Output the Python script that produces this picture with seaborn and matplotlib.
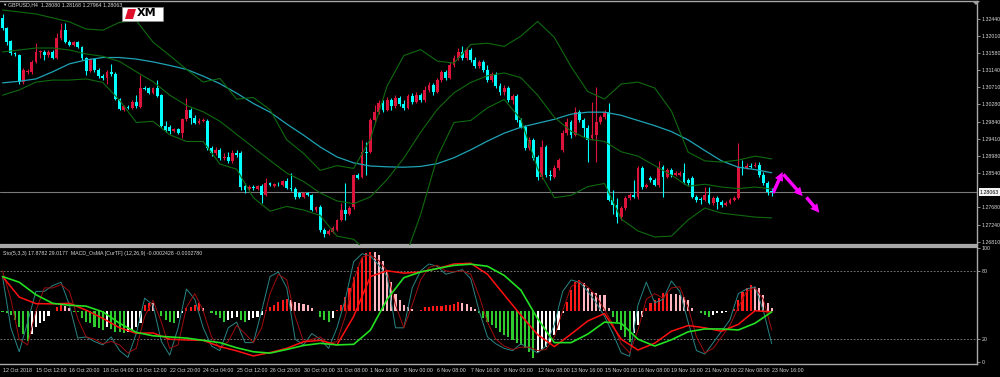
import matplotlib
matplotlib.use("Agg")
import matplotlib.pyplot as plt
import matplotlib.transforms as mtransforms
from matplotlib.patches import Rectangle, Polygon
import seaborn as sns

# ---- GBPUSD H4 candles (12 Oct - 23 Nov 2018) ----
opens = [1.3246, 1.3221, 1.3188, 1.3157, 1.3152, 1.3084, 1.3109, 1.3109, 1.3135, 1.3160,
         1.3160, 1.3152, 1.3160, 1.3145, 1.3195, 1.3215, 1.3185, 1.3178, 1.3185, 1.3173,
         1.3145, 1.3112, 1.3142, 1.3114, 1.3099, 1.3094, 1.3109, 1.3104, 1.3041, 1.3013,
         1.3021, 1.3018, 1.3034, 1.3021, 1.3069, 1.3069, 1.3056, 1.3069, 1.3051, 1.2973,
         1.2970, 1.2960, 1.2965, 1.2955, 1.2991, 1.3013, 1.2993, 1.2981, 1.2986, 1.2986,
         1.2918, 1.2905, 1.2912, 1.2892, 1.2895, 1.2885, 1.2905, 1.2905, 1.2822, 1.2814,
         1.2819, 1.2814, 1.2822, 1.2799, 1.2829, 1.2822, 1.2827, 1.2824, 1.2834, 1.2817,
         1.2814, 1.2804, 1.2794, 1.2804, 1.2799, 1.2761, 1.2769, 1.2710, 1.2700, 1.2705,
         1.2710, 1.2736, 1.2761, 1.2751, 1.2769, 1.2849, 1.2844, 1.2907, 1.2907, 1.2988,
         1.3008, 1.3031, 1.3013, 1.3039, 1.3024, 1.3044, 1.3029, 1.3018, 1.3049, 1.3034,
         1.3051, 1.3039, 1.3064, 1.3077, 1.3059, 1.3089, 1.3109, 1.3094, 1.3127, 1.3145,
         1.3160, 1.3145, 1.3165, 1.3140, 1.3124, 1.3135, 1.3114, 1.3089, 1.3104, 1.3074,
         1.3059, 1.3069, 1.3039, 1.3049, 1.2988, 1.2970, 1.2918, 1.2938, 1.2895, 1.2844,
         1.2920, 1.2849, 1.2844, 1.2867, 1.2912, 1.2955, 1.2983, 1.2950, 1.3008, 1.2988,
         1.2968, 1.2943, 1.2950, 1.2983, 1.2996, 1.3008, 1.2786, 1.2774, 1.2743, 1.2766,
         1.2791, 1.2799, 1.2794, 1.2867, 1.2819, 1.2842, 1.2837, 1.2824, 1.2870, 1.2844,
         1.2862, 1.2849, 1.2849, 1.2854, 1.2837, 1.2842, 1.2794, 1.2787, 1.2786, 1.2799,
         1.2779, 1.2791, 1.2781, 1.2774, 1.2779, 1.2786, 1.2791, 1.2870, 1.2867, 1.2872,
         1.2872, 1.2875, 1.2849, 1.2829, 1.28080]
highs = [1.3256, 1.3223, 1.3190, 1.3160, 1.3155, 1.3119, 1.3117, 1.3140, 1.3183, 1.3165,
         1.3165, 1.3165, 1.3165, 1.3208, 1.3233, 1.3233, 1.3190, 1.3188, 1.3188, 1.3175,
         1.3147, 1.3145, 1.3145, 1.3119, 1.3104, 1.3114, 1.3130, 1.3109, 1.3044, 1.3026,
         1.3026, 1.3039, 1.3051, 1.3102, 1.3074, 1.3071, 1.3071, 1.3089, 1.3054, 1.2986,
         1.2976, 1.2968, 1.2968, 1.2993, 1.3044, 1.3018, 1.3001, 1.2993, 1.2993, 1.2991,
         1.2923, 1.2920, 1.2918, 1.2905, 1.2907, 1.2912, 1.2912, 1.2910, 1.2829, 1.2824,
         1.2824, 1.2824, 1.2827, 1.2842, 1.2832, 1.2829, 1.2832, 1.2837, 1.2842, 1.2854,
         1.2819, 1.2806, 1.2806, 1.2806, 1.2801, 1.2771, 1.2774, 1.2716, 1.2713, 1.2721,
         1.2738, 1.2779, 1.2829, 1.2771, 1.2852, 1.2854, 1.2938, 1.2933, 1.2993, 1.3026,
         1.3039, 1.3039, 1.3046, 1.3044, 1.3051, 1.3049, 1.3039, 1.3054, 1.3056, 1.3059,
         1.3056, 1.3074, 1.3084, 1.3082, 1.3094, 1.3114, 1.3114, 1.3135, 1.3152, 1.3170,
         1.3175, 1.3173, 1.3170, 1.3147, 1.3140, 1.3140, 1.3127, 1.3109, 1.3109, 1.3082,
         1.3077, 1.3074, 1.3054, 1.3054, 1.2993, 1.2976, 1.2945, 1.2943, 1.2900, 1.2938,
         1.2925, 1.2862, 1.2875, 1.2892, 1.2963, 1.2993, 1.2988, 1.3021, 1.3013, 1.2993,
         1.2976, 1.3034, 1.3071, 1.3001, 1.3013, 1.3031, 1.2811, 1.2791, 1.2771, 1.2796,
         1.2804, 1.2837, 1.2872, 1.2872, 1.2829, 1.2847, 1.2842, 1.2885, 1.2875, 1.2867,
         1.2867, 1.2859, 1.2859, 1.2880, 1.2842, 1.2847, 1.2799, 1.2794, 1.2819, 1.2819,
         1.2796, 1.2796, 1.2786, 1.2784, 1.2791, 1.2796, 1.2930, 1.2887, 1.2880, 1.2880,
         1.2882, 1.2882, 1.2857, 1.2834, 1.28168]
lows = [1.3215, 1.3178, 1.3152, 1.3150, 1.3079, 1.3079, 1.3104, 1.3104, 1.3132, 1.3145,
        1.3140, 1.3147, 1.3142, 1.3142, 1.3190, 1.3183, 1.3175, 1.3175, 1.3170, 1.3140,
        1.3102, 1.3109, 1.3109, 1.3094, 1.3089, 1.3079, 1.3099, 1.3039, 1.3013, 1.3011,
        1.3016, 1.3016, 1.3018, 1.3018, 1.3064, 1.3054, 1.3054, 1.3046, 1.2970, 1.2958,
        1.2953, 1.2958, 1.2953, 1.2943, 1.2986, 1.2978, 1.2978, 1.2978, 1.2983, 1.2912,
        1.2897, 1.2900, 1.2887, 1.2887, 1.2880, 1.2880, 1.2895, 1.2811, 1.2804, 1.2811,
        1.2811, 1.2811, 1.2779, 1.2796, 1.2822, 1.2819, 1.2822, 1.2822, 1.2814, 1.2809,
        1.2789, 1.2791, 1.2791, 1.2796, 1.2758, 1.2756, 1.2705, 1.2693, 1.2698, 1.2703,
        1.2708, 1.2733, 1.2736, 1.2748, 1.2764, 1.2839, 1.2842, 1.2849, 1.2905, 1.2983,
        1.3003, 1.3008, 1.3011, 1.3013, 1.3018, 1.3024, 1.3013, 1.3016, 1.3029, 1.3031,
        1.3034, 1.3034, 1.3059, 1.3051, 1.3056, 1.3084, 1.3089, 1.3092, 1.3122, 1.3140,
        1.3140, 1.3140, 1.3135, 1.3119, 1.3119, 1.3109, 1.3084, 1.3084, 1.3069, 1.3051,
        1.3051, 1.3034, 1.3029, 1.2983, 1.2968, 1.2912, 1.2912, 1.2887, 1.2837, 1.2839,
        1.2844, 1.2837, 1.2842, 1.2862, 1.2907, 1.2950, 1.2943, 1.2948, 1.2983, 1.2945,
        1.2882, 1.2938, 1.2882, 1.2978, 1.2991, 1.2784, 1.2751, 1.2728, 1.2736, 1.2761,
        1.2786, 1.2791, 1.2789, 1.2814, 1.2817, 1.2832, 1.2822, 1.2819, 1.2794, 1.2842,
        1.2844, 1.2847, 1.2847, 1.2827, 1.2824, 1.2791, 1.2781, 1.2776, 1.2784, 1.2776,
        1.2774, 1.2764, 1.2769, 1.2771, 1.2776, 1.2784, 1.2789, 1.2849, 1.2865, 1.2867,
        1.2870, 1.2844, 1.2824, 1.2799, 1.27964]
closes = [1.3221, 1.3185, 1.3157, 1.3155, 1.3084, 1.3114, 1.3112, 1.3135, 1.3160, 1.3162,
          1.3152, 1.3160, 1.3145, 1.3195, 1.3215, 1.3185, 1.3178, 1.3185, 1.3173, 1.3145,
          1.3112, 1.3142, 1.3114, 1.3099, 1.3094, 1.3109, 1.3104, 1.3041, 1.3016, 1.3024,
          1.3020, 1.3034, 1.3024, 1.3069, 1.3066, 1.3056, 1.3069, 1.3049, 1.2973, 1.2963,
          1.2960, 1.2965, 1.2955, 1.2991, 1.3013, 1.2993, 1.2981, 1.2986, 1.2988, 1.2918,
          1.2905, 1.2912, 1.2892, 1.2895, 1.2885, 1.2905, 1.2900, 1.2819, 1.2811, 1.2819,
          1.2817, 1.2822, 1.2799, 1.2829, 1.2824, 1.2827, 1.2826, 1.2834, 1.2817, 1.2814,
          1.2794, 1.2794, 1.2804, 1.2799, 1.2761, 1.2769, 1.2710, 1.2700, 1.2708, 1.2716,
          1.2736, 1.2761, 1.2751, 1.2766, 1.2849, 1.2842, 1.2907, 1.2905, 1.2988, 1.3008,
          1.3031, 1.3013, 1.3039, 1.3024, 1.3044, 1.3029, 1.3018, 1.3049, 1.3034, 1.3051,
          1.3039, 1.3064, 1.3077, 1.3059, 1.3089, 1.3109, 1.3094, 1.3127, 1.3145, 1.3160,
          1.3145, 1.3165, 1.3140, 1.3124, 1.3135, 1.3114, 1.3089, 1.3104, 1.3074, 1.3059,
          1.3069, 1.3039, 1.3049, 1.2988, 1.2970, 1.2918, 1.2938, 1.2892, 1.2844, 1.2920,
          1.2849, 1.2847, 1.2867, 1.2887, 1.2955, 1.2983, 1.2950, 1.3008, 1.2988, 1.2968,
          1.2938, 1.2950, 1.2983, 1.2996, 1.3008, 1.2786, 1.2774, 1.2743, 1.2766, 1.2791,
          1.2799, 1.2794, 1.2867, 1.2819, 1.2824, 1.2837, 1.2824, 1.2870, 1.2844, 1.2862,
          1.2849, 1.2854, 1.2855, 1.2832, 1.2829, 1.2794, 1.2786, 1.2786, 1.2799, 1.2779,
          1.2791, 1.2781, 1.2774, 1.2779, 1.2786, 1.2791, 1.2870, 1.2867, 1.2872, 1.2871,
          1.2875, 1.2849, 1.2829, 1.2806, 1.28063]

# indicators on the price window, read every 4th bar
ma_line = [1.3082, 1.3086, 1.3092, 1.3110, 1.3130, 1.3140, 1.3146, 1.3146, 1.3142, 1.3135,
           1.3126, 1.3116, 1.3099, 1.3080, 1.3056, 1.3030, 1.3008, 1.2978, 1.2950, 1.2920,
           1.2895, 1.2880, 1.2872, 1.2870, 1.2869, 1.2871, 1.2878, 1.2893, 1.2913, 1.2935,
           1.2955, 1.2970, 1.2980, 1.2990, 1.3003, 1.3008, 1.3008, 1.3000, 1.2987, 1.2974,
           1.2959, 1.2938, 1.2911, 1.2885, 1.2869, 1.2863, 1.2855]
bb_upper = [1.3266, 1.3261, 1.3256, 1.3246, 1.3236, 1.3218, 1.3215, 1.3235, 1.3239, 1.3185,
            1.3151, 1.3116, 1.3084, 1.3093, 1.3041, 1.3045, 1.3014, 1.2938, 1.2904, 1.2861,
            1.2873, 1.2866, 1.2940, 1.3074, 1.3151, 1.3166, 1.3137, 1.3132, 1.3179, 1.3182,
            1.3174, 1.3200, 1.3237, 1.3197, 1.3123, 1.3060, 1.3041, 1.3079, 1.3084, 1.3069,
            1.3011, 1.2907, 1.2885, 1.2882, 1.2887, 1.2897, 1.2890]
bb_mid = [1.3160, 1.3165, 1.3170, 1.3170, 1.3165, 1.3155, 1.3149, 1.3136, 1.3110, 1.3085,
          1.3051, 1.3025, 1.3009, 1.2985, 1.2952, 1.2919, 1.2886, 1.2854, 1.2833, 1.2804,
          1.2784, 1.2777, 1.2794, 1.2838, 1.2892, 1.2957, 1.3015, 1.3057, 1.3083, 1.3100,
          1.3107, 1.3095, 1.3051, 1.2995, 1.2960, 1.2940, 1.2934, 1.2908, 1.2897, 1.2873,
          1.2849, 1.2821, 1.2826, 1.2819, 1.2815, 1.2819, 1.2814]
bb_lower = [1.3051, 1.3064, 1.3084, 1.3089, 1.3089, 1.3092, 1.3083, 1.3038, 1.2982, 1.2985,
            1.2951, 1.2934, 1.2934, 1.2877, 1.2864, 1.2792, 1.2758, 1.2770, 1.2761, 1.2747,
            1.2695, 1.2687, 1.2647, 1.2602, 1.2632, 1.2749, 1.2894, 1.2982, 1.2987, 1.3019,
            1.3040, 1.2990, 1.2865, 1.2792, 1.2798, 1.2820, 1.2828, 1.2738, 1.2708, 1.2693,
            1.2695, 1.2736, 1.2766, 1.2753, 1.2748, 1.2743, 1.2741]

# sub window: Sto(5,3,3) every 2nd bar, MACD lines every 4th bar, OsMA every bar
stoch_k = [75, 30, 9, 35, 62, 62, 67, 70, 50, 21, 22, 18, 15, 22, 10, 4, 25, 56, 50, 18,
           6, 30, 64, 55, 30, 14, 10, 30, 35, 17, 17, 45, 75, 79, 65, 20, 15, 25, 20, 12,
           30, 55, 88, 95, 93, 85, 75, 30, 30, 65, 80, 86, 84, 77, 79, 81, 73, 45, 22, 16,
           12, 10, 16, 12, 8, 14, 33, 62, 72, 70, 62, 52, 40, 25, 8, 5, 50, 70, 52, 55,
           71, 62, 35, 10, 7, 17, 27, 37, 60, 64, 66, 45, 16]
stoch_d = [80, 55, 20, 15, 45, 65, 65, 68, 62, 38, 22, 20, 16, 18, 15, 8, 12, 40, 54, 35,
           12, 15, 48, 60, 45, 22, 12, 18, 32, 25, 17, 30, 60, 77, 72, 40, 18, 20, 22, 16,
           18, 40, 72, 92, 94, 89, 80, 50, 30, 50, 72, 83, 85, 80, 79, 80, 77, 58, 35, 20,
           14, 11, 13, 13, 10, 11, 22, 45, 66, 71, 66, 58, 46, 33, 16, 8, 28, 55, 60, 56,
           65, 66, 48, 22, 8, 12, 22, 32, 48, 62, 65, 55, 28]
macd_main = [75, 57, 51.2, 51, 51.5, 45.5, 38.3, 30, 25.2, 25.5, 20, 19.3, 19, 13.5, 9.8, 5.3,
             8.3, 12, 17.8, 19, 15, 40, 75, 80, 78, 79, 82, 86, 86.6, 77, 59, 41, 24, 13.5,
             24.5, 36, 42.5, 20, 10.5, 16.5, 27, 32, 30, 27, 33, 45, 44]
macd_signal = [75, 70, 59, 51.5, 49.8, 49, 44, 34, 26, 23, 22, 21, 19, 17, 12.5, 9, 7.8, 11,
               14.5, 16.4, 15, 15.5, 28, 55, 74, 79, 82, 84.8, 85.8, 84, 76, 63, 38, 17, 17,
               24.5, 35, 34, 20, 14, 19.5, 26.5, 29, 29, 28.1, 34, 44]
osma = [-1, -2, -4, -8, -14, -20, -27, -20, -14, -11, -9, -5, -0.5, 3.5, 5, 4, 2, -1, -1.5, -6.5,
        -9.6, -11, -14, -15.5, -17, -14, -16, -18.4, -18.6, -19.9, -18.4, -17, -14, -11, 5, 7, 6.5,
        -0.5, -5, -8, -9.6, -11, -6.7, -2.3, 2, 3.5, 5, 6.5, 2, -0.3, -2.3, -3.8, -6.7, -9.6,
        -8.2, -6.7, -5.2, -8.2, -9.6, -8.2, -6.7, -5.2, -3.8, 1, 3.5, 5, 8, 9.4, 10, 9.4, 8,
        6.5, 6, 5, 2, -0.3, -5.2, -8.2, -9.6, -6.7, 0.6, 5, 12, 19.6, 29.9, 38.6, 46, 50.3,
        51.8, 51.5, 49, 44, 35, 25.5, 15, 9.4, 5, 3, 1.2, -0.3, 0.3, 3, 3.5, 4, 4.1, 4.2, 4.6,
        5, 5.6, 7.9, 7, 5.8, 3, 1.2, -2.3, -6.7, -9.6, -12.5, -15.5, -18.4, -21.3, -23.5,
        -25.7, -28.6, -30.1, -33, -35.9, -41.8, -35.9, -34.5, -31.6, -28.6, -21.3, -16.9,
        -2.3, 7.9, 18.2, 25.5, 27, 24, 19.6, 16.7, 15.2, 13.8, 13.5, 2, -5.2, -9.6, -16.9,
        -22.8, -27.2, -19.9, -12.5, -5.2, 2, 6.5, 9.4, 10.9, 15.2, 15.3, 15, 14.8, 13.8, 12.3,
        9.4, 2.1, -0.5, -2.3, -3.8, -5.2, -3.8, -2.3, -1.7, -0.8, -0.3, 1.2, 9.4, 16.7, 19.6,
        22.5, 21, 19.6, 13.8, 6.5, 2.1]
OSMA_BASE = 45

price_ticks = [1.3244, 1.3201, 1.3158, 1.3114, 1.3071, 1.3028, 1.2984, 1.2941, 1.2898,
               1.2854, 1.2768, 1.2724, 1.2681]
time_labels = ["12 Oct 2018", "15 Oct 12:00", "16 Oct 20:00", "18 Oct 04:00", "19 Oct 12:00",
               "22 Oct 20:00", "24 Oct 04:00", "25 Oct 12:00", "26 Oct 20:00", "30 Oct 00:00",
               "31 Oct 08:00", "1 Nov 16:00", "5 Nov 00:00", "6 Nov 08:00", "7 Nov 16:00",
               "9 Nov 00:00", "12 Nov 08:00", "13 Nov 16:00", "15 Nov 00:00", "16 Nov 08:00",
               "19 Nov 16:00", "21 Nov 00:00", "22 Nov 08:00", "23 Nov 16:00"]

# projected path drawn by hand on the chart (bar, price)
arrow_paths = [((184.3, 1.2804), (186.6, 1.2857)),
               ((186.8, 1.2851), (191.4, 1.2796)),
               ((192.3, 1.2793), (195.4, 1.2754))]

sns.set_theme(style="dark", rc={"axes.facecolor": "black", "figure.facecolor": "black",
                                "axes.grid": False})
plt.rcParams['font.family'] = ['Liberation Sans', 'DejaVu Sans']

BULL = '#dc143c'
BEAR = '#00ffff'
AXIS = '#a8a8a8'
TXT = '#d8d8d8'
FS = 3.8

fig = plt.figure(figsize=(10, 3.77), dpi=100)
fig.patch.set_facecolor('black')
ax = fig.add_axes([0.0, 132 / 377, 0.977, 244 / 377])
ax2 = fig.add_axes([0.0, 13 / 377, 0.977, 117 / 377])

bars = list(range(len(closes)))
step2 = list(range(0, len(closes), 2))
step4 = list(range(0, len(closes), 4))

# candles
cols = [BULL if c > o else BEAR for o, c in zip(opens, closes)]
body_h = [max(abs(c - o), 0.00022) for o, c in zip(opens, closes)]
body_lo = [min(o, c) - (h - abs(c - o)) / 2 for o, c, h in zip(opens, closes, body_h)]
ax.vlines(bars, lows, highs, colors=cols, linewidth=0.8, zorder=3)
ax.bar(bars, body_h, bottom=body_lo, width=0.68, color=cols, linewidth=0, zorder=4)

sns.lineplot(x=step4, y=ma_line, ax=ax, color='#1fa3b5', linewidth=0.9, estimator=None, zorder=5)
for band in (bb_upper, bb_mid, bb_lower):
    sns.lineplot(x=step4, y=band, ax=ax, color='#0f6a0f', linewidth=0.8, estimator=None, zorder=5)

last_close = closes[-1]
ax.axhline(last_close, color='#7a7a7a', linewidth=0.8, zorder=2)

for start, end in arrow_paths:
    ax.annotate('', xy=end, xytext=start,
                arrowprops=dict(arrowstyle='simple,head_length=0.9,head_width=0.9,tail_width=0.35',
                                color='#ff00ff', lw=0, shrinkA=0, shrinkB=0, mutation_scale=7))

ax.set_xlim(-0.6, 233.1)
ax.set_ylim(1.26726, 1.32887)
ax.set_xticks([])
ax.yaxis.tick_right()
ax.set_yticks(price_ticks)
ax.set_yticklabels([f"{p:.5f}" for p in price_ticks])
ax.tick_params(axis='y', direction='out', length=2, width=0.6, colors=AXIS,
               labelcolor=TXT, labelsize=FS, pad=1.5)
trans = mtransforms.blended_transform_factory(ax.transAxes, ax.transData)
ax.text(1.003, last_close, f"{last_close:.5f}", transform=trans, fontsize=FS, color='black',
        va='center', ha='left', clip_on=False,
        bbox=dict(boxstyle='square,pad=0.25', fc='#f2f2f2', ec='none'))

# sub window
osma_cols = []
prev = 0
for v in osma:
    if v >= 0:
        osma_cols.append('#ff1a1a' if v >= prev else '#ffb6c1')
    else:
        osma_cols.append('#2ecc2e' if v <= prev else '#ffffff')
    prev = v
ax2.bar(bars, osma, bottom=OSMA_BASE, width=0.5, color=osma_cols, linewidth=0, zorder=2)
sns.lineplot(x=step2, y=stoch_k, ax=ax2, color='#2a8585', linewidth=0.7, estimator=None, zorder=3)
sns.lineplot(x=step2, y=stoch_d, ax=ax2, color='#a00d0d', linewidth=0.7, estimator=None, zorder=3)
sns.lineplot(x=step4, y=macd_main, ax=ax2, color='#ff1010', linewidth=1.1, estimator=None, zorder=4)
sns.lineplot(x=step4, y=macd_signal, ax=ax2, color='#22e022', linewidth=1.2, estimator=None, zorder=4)
for lvl in (20, 80):
    ax2.axhline(lvl, color='#8a8a8a', linewidth=0.6, linestyle=(0, (2, 2)), zorder=1)

ax2.set_xlim(-0.6, 233.1)
ax2.set_ylim(-1.75, 100.9)
ax2.yaxis.tick_right()
ax2.set_yticks([0, 20, 80, 100])
ax2.set_yticklabels(['0', '20', '80', '100'])
ax2.tick_params(axis='y', direction='out', length=2, width=0.6, colors=AXIS,
                labelcolor=TXT, labelsize=FS, pad=1.5)
ax2.set_xticks(list(range(0, len(closes), 8)))
ax2.set_xticklabels(time_labels, ha='left')
offset = mtransforms.ScaledTranslation(1.5 / 100, 0, fig.dpi_scale_trans)
for lab in ax2.get_xticklabels():
    lab.set_transform(lab.get_transform() + offset)
ax2.tick_params(axis='x', direction='out', length=2.5, width=0.6, colors=AXIS,
                labelcolor=TXT, labelsize=FS, pad=0.5)

for a in (ax, ax2):
    a.set_xlabel('')
    a.set_ylabel('')
    a.spines['left'].set_visible(False)
    for s in ('top', 'right', 'bottom'):
        a.spines[s].set_color(AXIS)
        a.spines[s].set_linewidth(1.0)
ax.spines['bottom'].set_linewidth(1.6)
ax2.spines['top'].set_linewidth(1.6)

# headers
fig.text(2 / 1000, 1 - 5 / 377, '\u25bc', fontsize=3.2, color=TXT, va='center', ha='left')
fig.text(8 / 1000, 1 - 5 / 377, 'GBPUSD,H4  1.28080 1.28168 1.27964 1.28063', fontsize=FS,
         color=TXT, va='center', ha='left')
fig.text(3 / 1000, 1 - 253 / 377,
         'Sto(5,3,3) 17.8782 29.0177  MACD_OsMA [CurTF] (12,26,9) -0.0002428 -0.0002780',
         fontsize=FS, color=TXT, va='center', ha='left')

# XM badge
fig.patches.append(Rectangle((122 / 1000, 1 - 21 / 377), 41 / 1000, 14 / 377,
                             transform=fig.transFigure, fc='white', ec='#909090', lw=0.5))
fig.patches.append(Polygon([(125 / 1000, 1 - 19 / 377), (128 / 1000, 1 - 9 / 377),
                            (136 / 1000, 1 - 9 / 377), (133 / 1000, 1 - 19 / 377)],
                           closed=True, transform=fig.transFigure, fc='#e0102a', ec='none'))
fig.text(136.5 / 1000, 1 - 13.5 / 377, 'XM', fontsize=8, fontweight='bold', color='black',
         va='center', ha='left', family=['DejaVu Sans'])
fig.patches.append(Polygon([(972 / 1000, 1 - 1 / 377), (980 / 1000, 1 - 1 / 377),
                            (976 / 1000, 1 - 5 / 377)], closed=True,
                           transform=fig.transFigure, fc='#a0a0a0', ec='none'))

fig.savefig('out.png', dpi=100, facecolor='black')
